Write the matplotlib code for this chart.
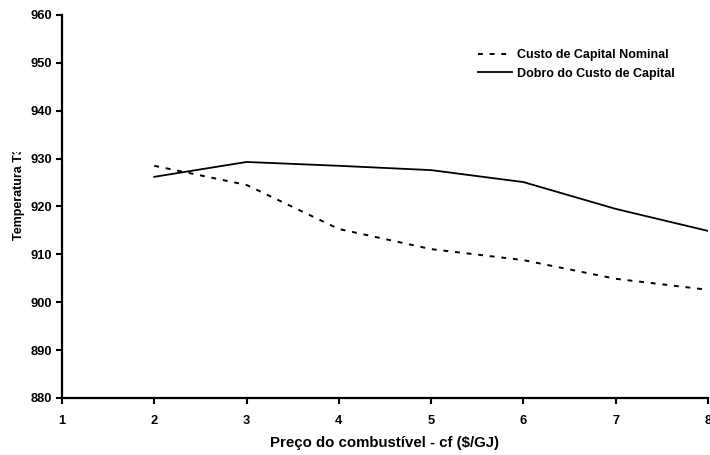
import matplotlib.pyplot as plt
from matplotlib.transforms import Bbox

plt.rcParams['font.family'] = ['Liberation Sans', 'DejaVu Sans']
plt.rcParams['font.weight'] = 'bold'

precos = [2, 3, 4, 5, 6, 7, 8]
custo_nominal = [928.5, 924.5, 915.3, 911.1, 908.8, 904.9, 902.6]
custo_dobro = [926.2, 929.3, 928.5, 927.6, 925.1, 919.5, 914.9]

fig = plt.figure(figsize=(7.1, 4.55), dpi=100)
ax = fig.add_axes([62 / 710, 1 - 398 / 455, (708 - 62) / 710, (398 - 15) / 455])

ax.plot(precos, custo_nominal, color='black', linestyle=(0, (2.5, 3.5)), linewidth=1.4,
        label='Custo de Capital Nominal')
ax.plot(precos, custo_dobro, color='black', linestyle='-', linewidth=1.3,
        label='Dobro do Custo de Capital')

ax.set_xlim(1, 8)
ax.set_ylim(880, 960)
ax.set_xticks(range(1, 9))
ax.set_yticks(range(880, 961, 10))
ax.tick_params(direction='out', length=4, width=1.5, labelsize=9.3)
ax.tick_params(axis='x', pad=8)
ax.tick_params(axis='y', pad=3)
for s in ['top', 'right']:
    ax.spines[s].set_visible(False)
for s in ['left', 'bottom']:
    ax.spines[s].set_linewidth(1.6)

ax.set_xlabel('Preço do combustível - cf ($/GJ)', fontsize=10.8, fontweight='bold', labelpad=7)

# y label is cut off at the top in the original chart
ylab = fig.text(19 / 710, 1 - 240 / 455, 'Temperatura T3', rotation=90, fontsize=9,
                fontweight='bold', ha='left', va='center', rotation_mode='anchor')
ylab.set_clip_box(Bbox.from_extents(0, 0, 60, 455 - 152))
ylab.set_clip_on(True)

ax.legend(loc='upper left', bbox_to_anchor=(0.644, 0.91), frameon=False, fontsize=9,
          borderpad=0, borderaxespad=0, handlelength=2.7, handletextpad=0.45,
          labelspacing=0.5)

fig.savefig('out.png', dpi=100)
